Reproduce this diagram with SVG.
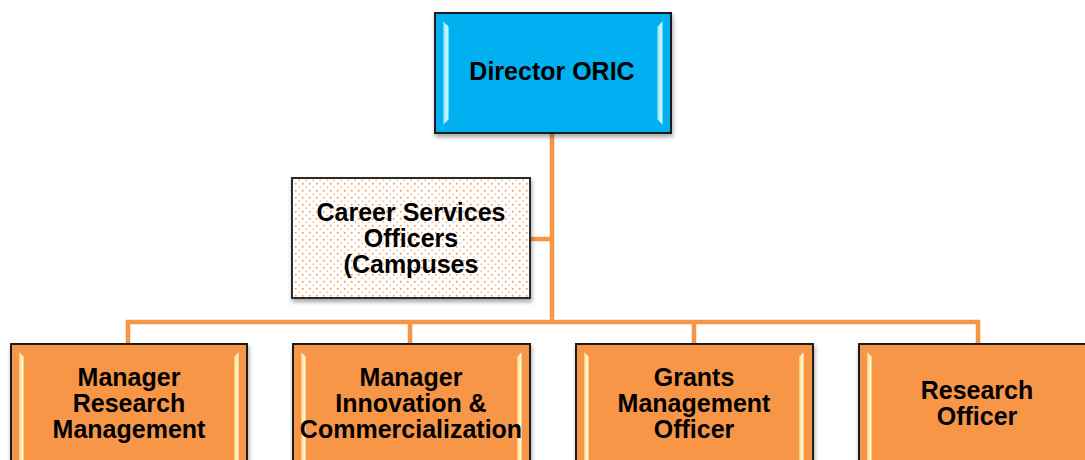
<svg xmlns="http://www.w3.org/2000/svg" width="1085" height="460" viewBox="0 0 1085 460">
<defs>
<style>
.t{font-family:"Liberation Sans",Arial,sans-serif;font-weight:bold;font-size:25px;fill:#000;text-anchor:middle}
.or{fill:#F79646;stroke:#1c1c1c;stroke-width:2}
.bl{fill:#00B0F0;stroke:#1c1c1c;stroke-width:2}
.cs{fill:url(#dots);stroke:#2a2a2a;stroke-width:2}
.hlO{fill:url(#gO)}
.hlB{fill:url(#gB)}
.ln{stroke:#F79646;stroke-width:4.5;fill:none}
</style>
<pattern id="dots" width="7" height="7" patternUnits="userSpaceOnUse">
<rect width="7" height="7" fill="#fff"/>
<circle cx="1.75" cy="1.75" r="1" fill="#F5A060"/>
<circle cx="5.25" cy="5.25" r="1" fill="#F9C79A"/>
</pattern>
<linearGradient id="gO" x1="0" y1="0" x2="1" y2="0">
<stop offset="0" stop-color="#FBC07E"/>
<stop offset="0.4" stop-color="#FFF0B8"/>
<stop offset="0.7" stop-color="#FFF6CC"/>
<stop offset="1" stop-color="#FAB774"/>
</linearGradient>
<linearGradient id="gB" x1="0" y1="0" x2="1" y2="0">
<stop offset="0" stop-color="#4FD0F8"/>
<stop offset="0.4" stop-color="#B8F2FF"/>
<stop offset="0.7" stop-color="#D5F8FF"/>
<stop offset="1" stop-color="#45CCF6"/>
</linearGradient>
<filter id="sh" x="-10%" y="-10%" width="120%" height="130%">
<feDropShadow dx="1" dy="3" stdDeviation="2" flood-color="#000" flood-opacity="0.35"/>
</filter>
</defs>

<g id="connectors">
<path class="ln" d="M552,133 V322"/>
<path class="ln" d="M530,239 H552"/>
<path class="ln" d="M128,344 V322 H978 V344"/>
<path class="ln" d="M410,322 V344"/>
<path class="ln" d="M694,322 V344"/>
</g>

<g id="director">
<rect class="bl" x="435" y="13" width="236" height="120" filter="url(#sh)"/>
<polygon class="hlB" points="443,21 449,27 449,119 443,125"/>
<polygon class="hlB" points="657,27 663,21 663,125 657,119"/>
<text class="t" x="552" y="80">Director ORIC</text>
</g>

<g id="career">
<rect class="cs" x="292" y="178" width="238" height="120" filter="url(#sh)"/>
<text class="t"><tspan x="411" y="221">Career Services</tspan><tspan x="411" y="247">Officers</tspan><tspan x="411" y="273">(Campuses</tspan></text>
</g>

<g id="mgr-research">
<rect class="or" x="11" y="344" width="236" height="130" filter="url(#sh)"/>
<polygon class="hlO" points="19,352 24,357 24,470 19,470"/>
<polygon class="hlO" points="234,357 239,352 239,470 234,470"/>
<text class="t"><tspan x="129" y="386">Manager</tspan><tspan x="129" y="412">Research</tspan><tspan x="129" y="438">Management</tspan></text>
</g>

<g id="mgr-innovation">
<rect class="or" x="293" y="344" width="237" height="130" filter="url(#sh)"/>
<polygon class="hlO" points="301,352 306,357 306,470 301,470"/>
<polygon class="hlO" points="517,357 522,352 522,470 517,470"/>
<text class="t"><tspan x="411" y="386">Manager</tspan><tspan x="411" y="412">Innovation &amp;</tspan><tspan x="411" y="438">Commercialization</tspan></text>
</g>

<g id="grants">
<rect class="or" x="576" y="344" width="237" height="130" filter="url(#sh)"/>
<polygon class="hlO" points="584,352 589,357 589,470 584,470"/>
<polygon class="hlO" points="799,357 804,352 804,470 799,470"/>
<text class="t"><tspan x="694" y="386">Grants</tspan><tspan x="694" y="412">Management</tspan><tspan x="694" y="438">Officer</tspan></text>
</g>

<g id="research-officer">
<rect class="or" x="859" y="344" width="237" height="130" filter="url(#sh)"/>
<polygon class="hlO" points="867,352 872,357 872,470 867,470"/>
<text class="t"><tspan x="977" y="399">Research</tspan><tspan x="977" y="425">Officer</tspan></text>
</g>
</svg>
